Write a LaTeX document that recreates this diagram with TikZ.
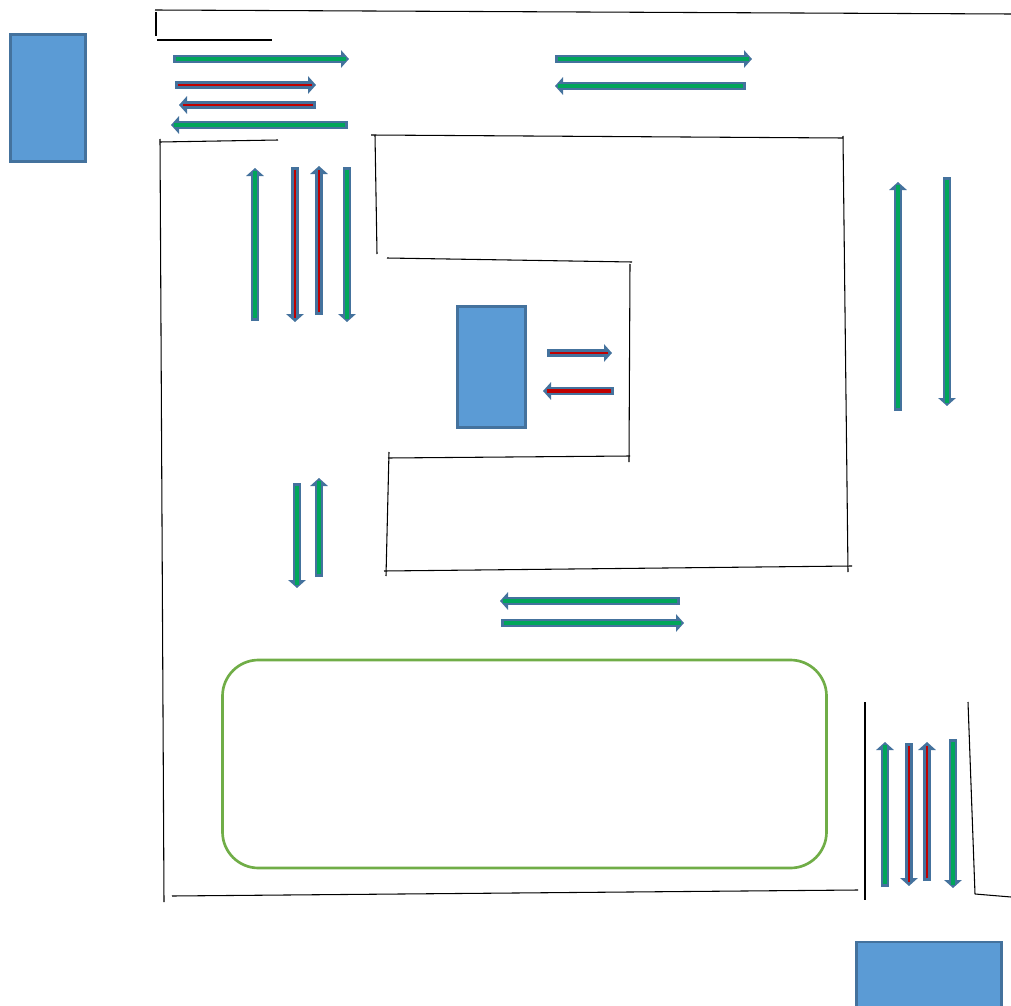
\documentclass[tikz,border=0pt]{standalone}
\usepackage{amsmath, amsfonts, amssymb}
\usetikzlibrary{arrows.meta, positioning, calc}
\definecolor{boxblue}{HTML}{5B9BD5}
\definecolor{edgeblue}{HTML}{44729D}
\definecolor{lanegreen}{HTML}{00A65A}
\definecolor{lanered}{HTML}{C00000}
\definecolor{loopgreen}{HTML}{70AD47}

\begin{document}
\begin{tikzpicture}[
  x=0.75pt, y=-0.75pt,
  block/.style={rectangle, draw=edgeblue, fill=boxblue, line width=2.1pt, inner sep=0pt},
  loopbox/.style={rectangle, draw=loopgreen, line width=2pt, rounded corners=27pt, inner sep=0pt, minimum width=453pt, minimum height=156pt},
  wall/.style={draw=black, line width=0.8pt},
  lane/.style={draw=edgeblue, line width=6.2pt, -{Triangle[length=6pt, width=13pt]}},
  greenlane/.style={lane, postaction={draw=lanegreen, line width=2.4pt, -, shorten >=2pt, shorten <=2pt}},
  redlane/.style={lane, postaction={draw=lanered, line width=2.2pt, -, shorten >=3pt, shorten <=2pt}},
  widegreenlane/.style={lane, postaction={draw=lanegreen, line width=3.2pt, -, shorten >=2pt, shorten <=2pt}},
  wideredlane/.style={lane, postaction={draw=lanered, line width=3.6pt, -, shorten >=3pt, shorten <=2pt}}
]
\useasboundingbox (0,0) rectangle (1011,1006);

% Blocks
\node[block, minimum width=56pt, minimum height=95pt] (leftblock) at (48,98) {};
\node[block, minimum width=51pt, minimum height=90.5pt] (midblock) at (491.5,367) {};
\node[block, minimum width=108.5pt, minimum height=60pt] (cornerblock) at (929,982) {};
\node[loopbox] (loop) at (524.5,764) {};

% Walls
\foreach \name/\xa/\ya/\xb/\yb in {
  topw/155/10/1011/14, stub/156/12/156/36, ledge/157/40/272/40,
  inleft/160/142/278/140, leftw/160/139/164/902, floor/172/896/858/890,
  outtop/371/135/843/138, inneck/375/135/377/254, intop/387/258/632/262,
  inright/630/264/629/462, inbot/388/458/630/456, inlow/389/452/386/576,
  outbot/384/571/852/566, outright/843/136/848/572,
  gapl/865/702/865/900, gapr/968/702/975/894, gapfoot/975/894/1011/897}
{
  \coordinate (\name a) at (\xa,\ya);
  \coordinate (\name b) at (\xb,\yb);
  \draw[wall] (\name a) -- (\name b);
}

% Lanes
\foreach \name/\kind/\xa/\ya/\xb/\yb in {
  ta/greenlane/173/59/349/59, tb/redlane/175/85/316/85,
  tc/redlane/316/105/179/105, td/greenlane/348/125/171/125,
  va/greenlane/255/321/255/168, vb/redlane/295/167/295/322,
  vc/redlane/319/315/319/166, vd/greenlane/347/167/347/322,
  ca/redlane/547/353/612/353,
  ra/greenlane/947/177/947/406,
  ma/greenlane/297/483/297/588, mb/greenlane/319/577/319/478,
  ba/greenlane/680/601/500/601, bb/greenlane/501/623/684/623,
  qb/redlane/909/743/909/886, qc/redlane/927/881/927/742,
  qd/greenlane/953/739/953/888,
  ua/widegreenlane/555/59/752/59, ub/widegreenlane/746/86/555/86,
  cb/wideredlane/614/391/543/391,
  rb/widegreenlane/898/411/898/182, qa/widegreenlane/885/887/885/742}
{
  \coordinate (\name s) at (\xa,\ya);
  \coordinate (\name e) at (\xb,\yb);
  \draw[\kind] (\name s) -- (\name e);
}

\end{tikzpicture}
\end{document}
